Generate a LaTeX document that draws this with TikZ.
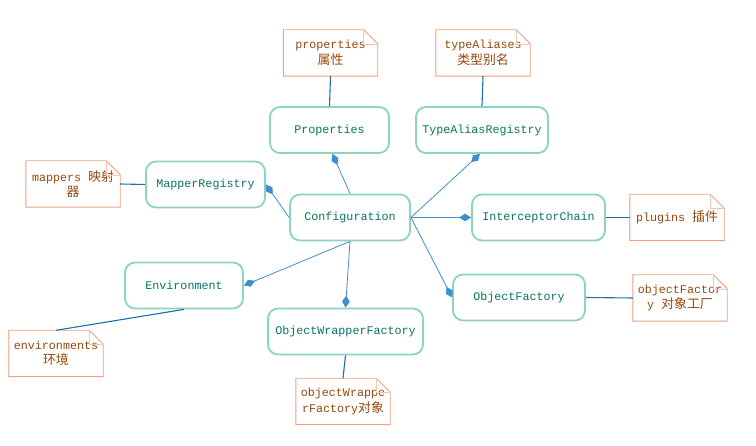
\documentclass[tikz,border=0pt]{standalone}
\usepackage{fontspec}
\setmonofont{Liberation Mono}
\newfontfamily\cjk{Noto Sans CJK SC}[Scale=1.1]
\usetikzlibrary{arrows.meta}

\definecolor{boxline}{RGB}{140,212,190}
\definecolor{boxtext}{RGB}{8,118,98}
\definecolor{noteline}{RGB}{242,160,128}
\definecolor{notetext}{RGB}{150,72,12}
\definecolor{complink}{RGB}{64,142,206}
\definecolor{notelink}{RGB}{30,110,170}

\tikzset{
  classbox/.style={draw=boxline, line width=1.8pt, rounded corners=10pt,
    fill=white, minimum height=46pt, text=boxtext,
    font=\ttfamily\fontsize{11.7}{14}\selectfont},
  notebox/.style={minimum width=94pt, minimum height=46pt, inner sep=2pt,
    text=notetext, align=center,
    font=\ttfamily\fontsize{11.7}{15.5}\selectfont},
  noteedge/.style={draw=noteline, line width=0.9pt},
  notefoldline/.style={draw=noteline!60, line width=0.5pt},
  comp/.style={{Diamond[length=12pt,width=7.5pt,fill=complink]}-,
    draw=complink, line width=0.8pt},
  notelinkstyle/.style={draw=notelink, line width=1.1pt},
}

% outline of a note node, with a folded top-right corner
\newcommand\drawnoteoutline[1]{%
  \path[noteedge] (#1.south west) -- (#1.south east)
    -- ([yshift=-14pt]#1.north east) -- ([xshift=-14pt]#1.north east)
    -- (#1.north west) -- cycle;
  \path[notefoldline] ([xshift=-14pt]#1.north east)
    -- ([xshift=-14pt,yshift=-14pt]#1.north east)
    -- ([yshift=-14pt]#1.north east);
}

\begin{document}
\begin{tikzpicture}[x=1pt,y=-1pt]
\useasboundingbox[fill=white] (0,0) rectangle (756,446);

% classes
\node[classbox, minimum width=119pt] (prop) at (329.5,130) {Properties};
\node[classbox, minimum width=132pt] (alias) at (482,130) {TypeAliasRegistry};
\node[classbox, minimum width=119pt] (mapper) at (205.5,184.5) {MapperRegistry};
\node[classbox, minimum width=120pt] (conf) at (350,217.5) {Configuration};
\node[classbox, minimum width=133pt] (chain) at (538.5,217.5) {InterceptorChain};
\node[classbox, minimum width=118pt] (env) at (184,285.5) {Environment};
\node[classbox, minimum width=132pt] (objf) at (519,297.5) {ObjectFactory};
\node[classbox, minimum width=155pt] (wrap) at (345.5,331.5) {ObjectWrapperFactory};

% notes
\node[notebox] (nprop) at (330.5,53) {properties\\{\cjk 属性}};
\node[notebox] (nalias) at (483,53) {typeAliases\\{\cjk 类型别名}};
\node[notebox] (nmapper) at (73,184) {mappers {\cjk 映射}\\{\cjk 器}};
\node[notebox] (nplug) at (677,217.5) {plugins {\cjk 插件}};
\node[notebox] (nobjf) at (680,298) {objectFactor\\y {\cjk 对象工厂}};
\node[notebox] (nenv) at (56,353.5) {environments\\{\cjk 环境}};
\node[notebox] (nwrap) at (343,401.5) {objectWrappe\\rFactory{\cjk 对象}};

\foreach \n in {nprop,nalias,nmapper,nplug,nobjf,nenv,nwrap}{
  \drawnoteoutline{\n}
}

% composition links
\draw[comp] ([xshift=3pt]prop.south) -- (conf.north);
\draw[comp] ([xshift=-2pt]alias.south) -- (conf.east);
\draw[comp] (mapper.east) -- (conf.west);
\draw[comp] (chain.west) -- (conf.east);
\draw[comp] (env.east) -- (conf.south);
\draw[comp] (wrap.north) -- (conf.south);
\draw[comp] (objf.west) -- (conf.east);

% note links
\draw[notelinkstyle] (nprop.south) -- (prop.north);
\draw[notelinkstyle] (nalias.south) -- (alias.north);
\draw[notelinkstyle] (nmapper.east) -- (mapper.west);
\draw[notelinkstyle] (chain.east) -- (nplug.west);
\draw[notelinkstyle] (objf.east) -- (nobjf.west);
\draw[notelinkstyle] (nenv.north) -- (env.south);
\draw[notelinkstyle] (wrap.south) -- (nwrap.north);
\end{tikzpicture}
\end{document}
